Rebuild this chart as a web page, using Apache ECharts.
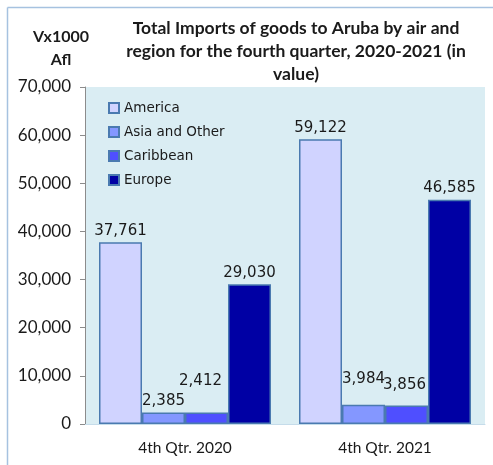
<!DOCTYPE html>
<html>
<head>
<meta charset="utf-8">
<script src="https://cdn.jsdelivr.net/npm/echarts@6/dist/echarts.min.js"></script>
<style>
  html, body { margin: 0; padding: 0; background: #fff; }
  #chart { width: 493px; height: 465px; }
</style>
</head>
<body>
<div id="chart"></div>
<script>
// categories and values (Vx1000 Afl)
var quarters = ['4th Qtr. 2020', '4th Qtr. 2021'];
var america = [37761, 59122];
var asiaOther = [2385, 3984];
var caribbean = [2412, 3856];
var europe = [29030, 46585];
var yTicks = [0, 10000, 20000, 30000, 40000, 50000, 60000, 70000];

// label nudges, Excel moved some labels to keep them apart
var asiaOffsets = [[0, 0], [0, -14]];
var caribOffsets = [[-6, -20], [-2, -9]];

function fmt(v) {
  return v.toString().replace(/\B(?=(\d{3})+(?!\d))/g, ',');
}

function withOffsets(vals, offs) {
  return vals.map(function (v, i) {
    return { value: v, label: { offset: offs[i] } };
  });
}

var labelStyle = {
  show: true,
  position: 'top',
  distance: 4,
  fontFamily: 'DejaVu Sans',
  fontSize: 15,
  color: '#1a1a1a',
  formatter: function (p) { return fmt(p.value); }
};

function bar(name, color, data) {
  return {
    name: name,
    type: 'bar',
    data: data,
    barGap: '0%',
    barCategoryGap: '14%',
    itemStyle: { color: color, borderColor: '#4A7AB0', borderWidth: 1.5 },
    label: labelStyle
  };
}

var myChart = echarts.init(document.getElementById('chart'));
myChart.setOption({
  animation: false,
  backgroundColor: '#fff',
  graphic: [
    // outer frame (left + top edges visible)
    { type: 'line', shape: { x1: 7.5, y1: 7.5, x2: 7.5, y2: 465 }, style: { stroke: '#A6C2E0', lineWidth: 1.5 } },
    { type: 'line', shape: { x1: 7.5, y1: 7.5, x2: 493, y2: 7.5 }, style: { stroke: '#A6C2E0', lineWidth: 1.5 } }
  ],
  title: [
    {
      text: 'Total Imports of goods to Aruba by air and\nregion for the fourth quarter, 2020-2021 (in\nvalue)',
      left: 291, top: 12, textAlign: 'center',
      textStyle: { fontFamily: 'Lato', fontWeight: 'bold', fontSize: 17.5, lineHeight: 23, color: '#1a1a1a' }
    },
    {
      text: 'Vx1000\nAfl',
      left: 56, top: 20, textAlign: 'center',
      textStyle: { fontFamily: 'Lato', fontWeight: 'bold', fontSize: 16, lineHeight: 23, color: '#1a1a1a' }
    }
  ],
  legend: {
    orient: 'vertical',
    left: 103, top: 96,
    itemWidth: 10, itemHeight: 10, itemGap: 10,
    icon: 'rect',
    textStyle: { fontFamily: 'DejaVu Sans', fontSize: 13.5, color: '#1a1a1a' },
    data: ['America', 'Asia and Other', 'Caribbean', 'Europe']
  },
  grid: { left: 85, right: 8, top: 87, bottom: 41, show: true, backgroundColor: '#DAEDF3', borderWidth: 0 },
  xAxis: {
    type: 'category',
    data: quarters,
    axisLine: { show: true, lineStyle: { color: '#C5DCEA', width: 1 } },
    axisTick: { show: false },
    axisLabel: { margin: 16, fontFamily: 'Lato', fontSize: 15.5, color: '#1a1a1a' }
  },
  yAxis: {
    type: 'value',
    min: yTicks[0], max: yTicks[yTicks.length - 1], interval: 10000,
    axisLine: { show: true, lineStyle: { color: '#8c8c8c' } },
    axisTick: { show: true, length: 5, lineStyle: { color: '#8c8c8c' } },
    splitLine: { show: false },
    axisLabel: { margin: 14, fontFamily: 'Lato', fontSize: 17, color: '#1a1a1a', formatter: fmt }
  },
  series: [
    bar('America', '#D0D3FF', america),
    bar('Asia and Other', '#8497FF', withOffsets(asiaOther, asiaOffsets)),
    bar('Caribbean', '#4F4FFF', withOffsets(caribbean, caribOffsets)),
    bar('Europe', '#0000A4', europe)
  ]
});
</script>
</body>
</html>
